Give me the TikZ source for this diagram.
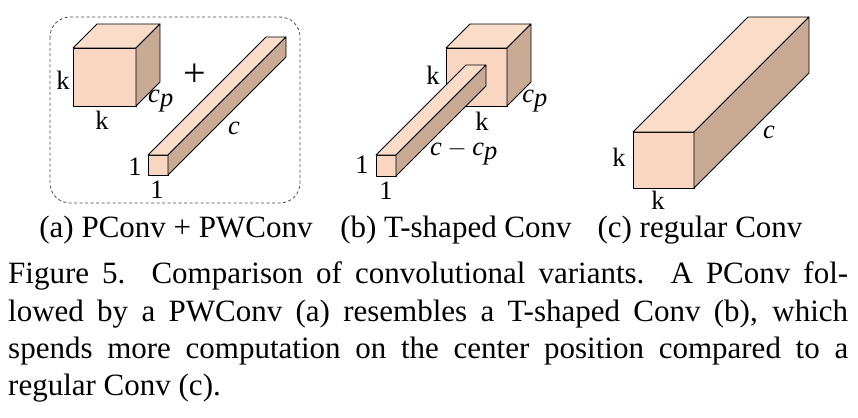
\documentclass[tikz,border=0pt]{standalone}
\usepackage{fontspec}
\setmainfont{Liberation Serif}
\definecolor{facefront}{HTML}{F8D6C1}
\definecolor{facetop}{HTML}{FADDC9}
\definecolor{faceside}{HTML}{C8AA95}
\tikzset{
  edge/.style={draw=black, line width=0.8pt, line join=round},
  lbl/.style={inner sep=0pt, font=\fontsize{26.5}{26.5}\selectfont},
  subcap/.style={inner sep=0pt, anchor=base, font=\fontsize{31}{34}\selectfont},
  capline/.style={inner sep=0pt, anchor=base west, font=\fontsize{31}{34}\selectfont},
}
\begin{document}
\begin{tikzpicture}[x=1pt, y=-1pt]
\useasboundingbox (0,0) rectangle (858,417);
% front face top left (#1,#2), width #3, height #4, depth #5
\def\cuboid#1#2#3#4#5{
  \filldraw[fill=facefront, edge] (#1,#2) rectangle ++(#3,#4);
  \filldraw[fill=facetop, edge] (#1,#2) -- ++(#5,-#5) -- ++(#3,0) -- ++(-#5,#5) -- cycle;
  \filldraw[fill=faceside, edge] (#1+#3,#2) -- ++(#5,-#5) -- ++(0,#4) -- ++(-#5,#5) -- cycle;
}
    % (a) PConv + PWConv
    \draw[gray!60!black, dash pattern=on 3pt off 2.5pt, line width=0.8pt, rounded corners=20pt] (50,17) rectangle (300,203);
    \cuboid{73}{48}{63}{58}{24}
    \cuboid{148}{155}{20}{20}{118}
    \node[lbl] (ka1) at (63,80) {k};
    \node[lbl] (ka2) at (102,120) {k};
    \node[lbl] (cpa) at (161,101) {$\textit{c}_{\textit{p}}$};
    \node[lbl, font=\fontsize{40}{40}\selectfont] (plus) at (195,75) {+};
    \node[lbl] (ca) at (234,128) {$\textit{c}$};
    \node[lbl] (oa1) at (135,167) {1};
    \node[lbl] (oa2) at (157,190) {1};
    % (b) T-shaped Conv
    \cuboid{446}{48}{61}{58}{24}
    \cuboid{376}{155}{20}{21}{90}
    \node[lbl] (kb1) at (433,75) {k};
    \node[lbl] (kb2) at (482,121) {k};
    \node[lbl] (cpb) at (535,101) {$\textit{c}_{\textit{p}}$};
    \node[lbl] (ccpb) at (464,153) {$\textit{c} - \textit{c}_{\textit{p}}$};
    \node[lbl] (ob1) at (362,165) {1};
    \node[lbl] (ob2) at (386,191) {1};
    % (c) regular Conv
    \cuboid{633}{132}{61}{56}{115}
    \node[lbl] (kc1) at (619,157) {k};
    \node[lbl] (kc2) at (658,200) {k};
    \node[lbl] (cc) at (769,132) {$\textit{c}$};
    % captions
    \node[subcap] (suba) at (176,237) {(a) PConv + PWConv};
    \node[subcap] (subb) at (456,237) {(b) T-shaped Conv};
    \node[subcap] (subc) at (700,237) {(c) regular Conv};
    \node[capline] (cap1) at (8,283) {\makebox[840pt][s]{Figure 5.\ \ Comparison of convolutional variants.\ \ A PConv fol-}};
    \node[capline] (cap2) at (8,321) {\makebox[840pt][s]{lowed by a PWConv (a) resembles a T-shaped Conv (b), which}};
    \node[capline] (cap3) at (8,358) {\makebox[840pt][s]{spends more computation on the center position compared to a}};
    \node[capline] (cap4) at (8,395) {regular Conv (c).};
\end{tikzpicture}
\end{document}
